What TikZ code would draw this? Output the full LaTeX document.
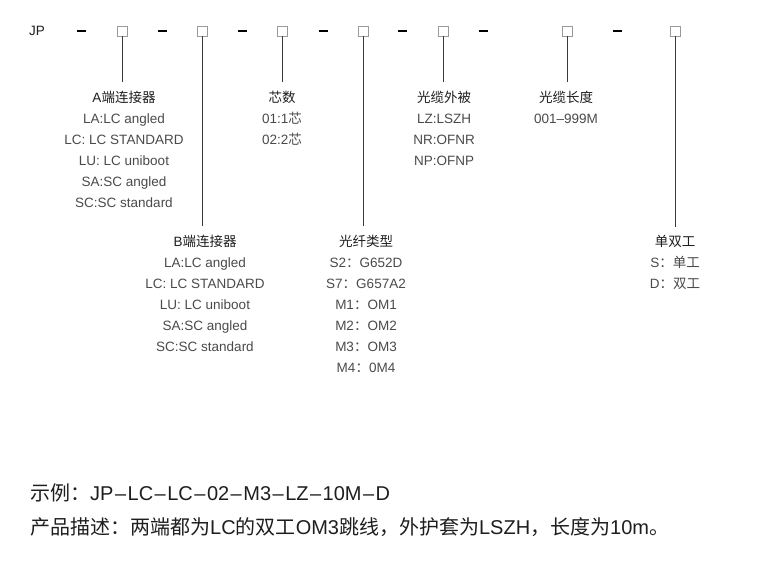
\documentclass[tikz,border=0pt]{standalone}
\usepackage{fontspec}
\setmainfont{Liberation Sans}
\newfontfamily\cjfont{Noto Sans CJK SC}
\newcommand\zh[1]{{\cjfont #1}}
\newcommand\dsh{\kern1.5pt--\kern1.5pt}
\definecolor{hdrcol}{HTML}{1E1E1E}
\definecolor{valcol}{HTML}{4A4A4A}
\definecolor{boxcol}{HTML}{9A9A9A}
\definecolor{linecol}{HTML}{3A3A3A}
\begin{document}
\begin{tikzpicture}[x=1pt,y=-1pt,
  hdr/.style={font=\fontsize{13.5}{16}\selectfont, text=hdrcol, anchor=base, inner sep=2pt},
  val/.style={font=\fontsize{13.5}{16}\selectfont, text=valcol, anchor=base, inner sep=2pt},
  codebox/.style={draw=boxcol, line width=0.8pt, minimum size=10pt, inner sep=0pt, fill=white},
  sepdash/.style={line width=2.4pt, black},
  conn/.style={draw=linecol, line width=0.8pt, shorten >=6pt},
  bottomtxt/.style={font=\fontsize{20}{24}\selectfont, text=hdrcol, anchor=base west, inner sep=0pt}
]
\path[use as bounding box] (0,0) rectangle (770,566);

% top code row
\node[hdr, anchor=center] (jp) at (37,31) {JP};
\foreach \x [count=\i] in {81,162,242,323,402,483,617}
  \draw[sepdash] ({\x-4.5},31) -- ({\x+4.5},31);
\foreach \x [count=\i] in {122,202,282,363,443,567,675}
  \node[codebox] (b\i) at (\x,31) {};

% A connector
\node[hdr] (A0) at (124,102) {A\zh{端连接器}};
\foreach \t [count=\i] in {LA:LC angled, LC: LC STANDARD, LU: LC uniboot, SA:SC angled, SC:SC standard}
  \node[val] (A\i) at (124,{102+21*\i}) {\t};

% core count
\node[hdr] (C0) at (282,102) {\zh{芯数}};
\node[val] (C1) at (282,123) {01:1\zh{芯}};
\node[val] (C2) at (282,144) {02:2\zh{芯}};

% jacket
\node[hdr] (J0) at (444,102) {\zh{光缆外被}};
\foreach \t [count=\i] in {LZ:LSZH, NR:OFNR, NP:OFNP}
  \node[val] (J\i) at (444,{102+21*\i}) {\t};

% length
\node[hdr] (L0) at (566,102) {\zh{光缆长度}};
\node[val] (L1) at (566,123) {001--999M};

% B connector
\node[hdr] (B0) at (205,246) {B\zh{端连接器}};
\foreach \t [count=\i] in {LA:LC angled, LC: LC STANDARD, LU: LC uniboot, SA:SC angled, SC:SC standard}
  \node[val] (B\i) at (205,{246+21*\i}) {\t};

% fibre type
\node[hdr] (F0) at (366,246) {\zh{光纤类型}};
\foreach \t [count=\i] in {S2\zh{：}G652D, S7\zh{：}G657A2, M1\zh{：}OM1, M2\zh{：}OM2, M3\zh{：}OM3, M4\zh{：}0M4}
  \node[val] (F\i) at (366,{246+21*\i}) {\t};

% duplex
\node[hdr] (D0) at (675,246) {\zh{单双工}};
\node[val] (D1) at (675,267) {S\zh{：单工}};
\node[val] (D2) at (675,288) {D\zh{：双工}};

% connectors
\draw[conn] (b1.south) -- (b1.south |- A0.north);
\draw[conn] (b2.south) -- (b2.south |- B0.north);
\draw[conn] (b3.south) -- (b3.south |- C0.north);
\draw[conn] (b4.south) -- (b4.south |- F0.north);
\draw[conn] (b5.south) -- (b5.south |- J0.north);
\draw[conn] (b6.south) -- (b6.south |- L0.north);
\draw[conn] (b7.south) -- (b7.south |- D0.north);

% bottom text
\node[bottomtxt] (ex) at (30,500) {\zh{示例：}JP\dsh LC\dsh LC\dsh 02\dsh M3\dsh LZ\dsh 10M\dsh D};
\node[bottomtxt] (desc) at (30,534) {\zh{产品描述：两端都为}LC\zh{的双工}OM3\zh{跳线，外护套为}LSZH\zh{，长度为}10m\zh{。}};
\end{tikzpicture}
\end{document}
